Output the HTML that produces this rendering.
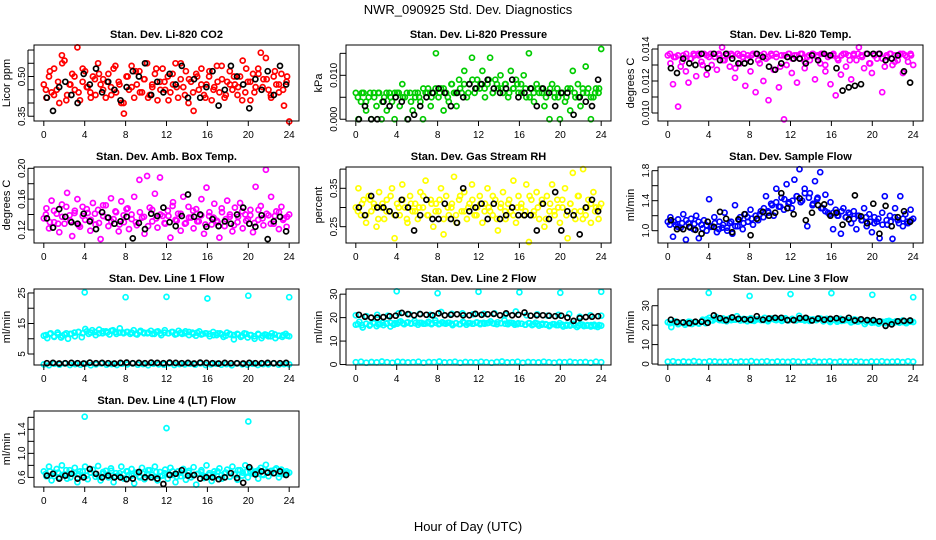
<!DOCTYPE html>
<html><head><meta charset="utf-8"><style>
html,body{margin:0;padding:0;background:#fff}
svg{display:block;font-family:"Liberation Sans",sans-serif}
</style></head><body>
<svg id="chart" width="936" height="540" viewBox="0 0 936 540">
<rect x="0" y="0" width="936" height="540" fill="#fff"/>
<text x="468" y="14" text-anchor="middle" font-size="13">NWR_090925  Std. Dev. Diagnostics</text>
<text x="468" y="531" text-anchor="middle" font-size="13">Hour of Day (UTC)</text>
</svg>
<script>
const xTicks=[0,4,8,12,16,20,24];
// CO2
const co2Vals=[0.47,0.42,0.50,0.44,0.53,0.45,0.40,0.58,0.56,0.43,0.47,0.51,0.45,0.61,0.41,0.48,0.52,0.46,0.44,0.50,0.43,0.55,0.47,0.49,0.42,0.51,0.46,0.53,0.44,0.48,0.40,0.36,0.50,0.45,0.54,0.42,0.47,0.52,0.44,0.49,0.55,0.43,0.46,0.51,0.41,0.48,0.53,0.45,0.50,0.44,0.47,0.55,0.42,0.49,0.46,0.52,0.40,0.48,0.37,0.51,0.45,0.53,0.43,0.47,0.50,0.41,0.46,0.54,0.44,0.49,0.42,0.48,0.52,0.45,0.47,0.43,0.50,0.56,0.44,0.48,0.41,0.51,0.46,0.53,0.59,0.49,0.57,0.45,0.42,0.50,0.47,0.44,0.51,0.39,0.48,0.33];
const co2B=[0.45,0.52,0.43,0.48,0.55,0.41,0.47,0.50,0.44,0.53,0.46,0.42,0.49,0.51,0.45,0.48,0.43,0.54,0.47,0.40,0.50,0.46,0.52,0.44,0.49,0.42,0.47,0.53,0.45,0.48,0.41,0.51,0.46,0.55,0.43,0.49,0.44,0.50,0.47,0.42,0.52,0.45,0.48,0.54,0.43,0.47,0.50,0.46,0.41,0.53,0.48,0.44,0.51,0.46,0.49,0.43,0.52,0.47,0.45,0.50];
const co2Black=[0.42,0.37,0.46,0.48,0.43,0.40,0.51,0.47,0.53,0.44,0.48,0.45,0.41,0.46,0.52,0.50,0.55,0.43,0.48,0.44,0.51,0.47,0.54,0.42,0.49,0.42,0.46,0.52,0.39,0.45,0.54,0.50,0.47,0.38,0.49,0.45,0.52,0.43,0.54,0.47];
// Pressure
const presVals=[.006,.000,.004,.006,.002,.005,.000,.006,.003,.006,.000,.005,.002,.006,.004,.000,.006,.003,.008,.005,.000,.006,.002,.005,.006,.004,.000,.006,.007,.003,.006,.015,.005,.007,.002,.006,.004,.008,.006,.003,.009,.006,.011,.005,.008,.014,.006,.009,.007,.011,.005,.008,.014,.006,.009,.007,.010,.006,.008,.005,.011,.007,.009,.006,.008,.010,.005,.015,.007,.004,.008,.006,.007,.003,.006,.000,.008,.005,.007,.000,.006,.004,.007,.002,.011,.005,.008,.003,.006,.012,.007,.000,.005,.007,.006,.016];
const presB=[.005,.006,.004,.006,.005,.006,.004,.006,.005,.006,.006,.005,.006,.004,.006,.005,.007,.006,.005,.007,.006,.007,.005,.008,.006,.007,.008,.006,.009,.007,.008,.007,.009,.006,.008,.007,.008,.006,.007,.008,.006,.007,.005,.006,.007,.006,.005,.007,.006,.005,.006,.005,.007,.006,.005,.007,.006,.005,.006,.007];
const presBlack=[.000,.003,.000,.000,.004,.003,.005,.004,.000,.001,.003,.005,.006,.007,.006,.003,.006,.005,.008,.007,.008,.009,.007,.006,.007,.009,.005,.006,.007,.003,.007,.006,.003,.006,.006,.001,.005,.004,.003,.009];
// Li-820 temp
const tempVals=[0.0136,0.0131,0.0118,0.0135,0.0104,0.0129,0.0136,0.0126,0.0119,0.0134,0.0137,0.0123,0.0136,0.0132,0.0137,0.0124,0.0135,0.0130,0.0137,0.0127,0.0136,0.0141,0.0133,0.0137,0.0129,0.0136,0.0122,0.0137,0.0131,0.0135,0.0117,0.0136,0.0126,0.0137,0.0113,0.0133,0.0136,0.0120,0.0134,0.0108,0.0137,0.0127,0.0135,0.0116,0.0136,0.0096,0.0130,0.0137,0.0125,0.0136,0.0119,0.0134,0.0137,0.0128,0.0135,0.0133,0.0137,0.0121,0.0136,0.0131,0.0137,0.0126,0.0135,0.0118,0.0136,0.0111,0.0133,0.0124,0.0137,0.0129,0.0136,0.0121,0.0137,0.0133,0.0141,0.0136,0.0128,0.0137,0.0131,0.0125,0.0136,0.0134,0.0137,0.0113,0.0129,0.0135,0.0137,0.0130,0.0136,0.0133,0.0137,0.0125,0.0136,0.0132,0.0137,0.0130];
const tempB=[0.0137,0.0135,0.0136,0.0132,0.0137,0.0134,0.0136,0.0137,0.0130,0.0136,0.0137,0.0135,0.0137,0.0133,0.0136,0.0137,0.0128,0.0136,0.0137,0.0134,0.0136,0.0137,0.0131,0.0137,0.0135,0.0136,0.0137,0.0129,0.0136,0.0137,0.0134,0.0136,0.0137,0.0132,0.0136,0.0137,0.0135,0.0137,0.0130,0.0136,0.0137,0.0134,0.0136,0.0137,0.0133,0.0136,0.0137,0.0135,0.0137,0.0131,0.0136,0.0137,0.0134,0.0136,0.0137,0.0132,0.0136,0.0137,0.0135,0.0136];
const tempBlack=[0.0128,0.0125,0.0134,0.0131,0.0130,0.0137,0.0128,0.0137,0.0133,0.0137,0.0134,0.0131,0.0131,0.0132,0.0137,0.0135,0.0129,0.0127,0.0131,0.0135,0.0134,0.0134,0.0131,0.0136,0.0133,0.0137,0.0136,0.0128,0.0114,0.0116,0.0117,0.0118,0.0137,0.0137,0.0137,0.0133,0.0134,0.0136,0.0126,0.0119];
// Amb box temp
const ambVals=[0.135,0.148,0.122,0.158,0.130,0.141,0.117,0.153,0.128,0.168,0.139,0.112,0.145,0.160,0.124,0.150,0.133,0.142,0.119,0.155,0.127,0.146,0.108,0.138,0.152,0.125,0.161,0.134,0.143,0.118,0.157,0.130,0.147,0.121,0.140,0.163,0.126,0.185,0.136,0.115,0.190,0.149,0.131,0.167,0.123,0.188,0.138,0.128,0.145,0.110,0.156,0.133,0.141,0.119,0.163,0.129,0.150,0.136,0.122,0.147,0.131,0.160,0.115,0.175,0.138,0.127,0.154,0.132,0.110,0.143,0.125,0.158,0.137,0.118,0.149,0.130,0.155,0.122,0.140,0.134,0.146,0.117,0.176,0.133,0.151,0.126,0.198,0.139,0.163,0.128,0.144,0.121,0.150,0.135,0.124,0.140];
const ambB=[0.140,0.130,0.145,0.128,0.137,0.150,0.132,0.142,0.126,0.138,0.147,0.133,0.141,0.129,0.152,0.136,0.131,0.144,0.127,0.139,0.148,0.134,0.130,0.143,0.137,0.125,0.146,0.135,0.140,0.129,0.138,0.151,0.132,0.141,0.128,0.136,0.145,0.131,0.139,0.127,0.143,0.136,0.130,0.148,0.134,0.140,0.126,0.137,0.144,0.132,0.139,0.129,0.146,0.135,0.141,0.128,0.138,0.143,0.133,0.137];
const ambBlack=[0.135,0.123,0.147,0.137,0.130,0.128,0.141,0.131,0.121,0.143,0.136,0.128,0.131,0.137,0.109,0.129,0.121,0.141,0.138,0.149,0.130,0.125,0.138,0.166,0.137,0.140,0.124,0.134,0.125,0.131,0.128,0.140,0.149,0.128,0.124,0.139,0.108,0.131,0.137,0.118];
// RH
const rhVals=[0.30,0.35,0.28,0.32,0.26,0.33,0.29,0.31,0.25,0.34,0.30,0.27,0.32,0.29,0.35,0.22,0.31,0.28,0.36,0.30,0.26,0.33,0.29,0.31,0.27,0.34,0.30,0.37,0.28,0.32,0.25,0.31,0.29,0.35,0.23,0.33,0.28,0.30,0.38,0.26,0.32,0.29,0.34,0.27,0.31,0.36,0.28,0.30,0.33,0.26,0.31,0.35,0.29,0.28,0.32,0.24,0.30,0.34,0.27,0.31,0.29,0.37,0.26,0.33,0.30,0.28,0.36,0.21,0.32,0.29,0.34,0.27,0.31,0.25,0.33,0.29,0.36,0.28,0.32,0.26,0.30,0.35,0.22,0.31,0.39,0.27,0.33,0.29,0.40,0.28,0.32,0.26,0.34,0.30,0.27,0.31];
const rhB=[0.29,0.31,0.28,0.32,0.30,0.27,0.31,0.29,0.33,0.28,0.30,0.32,0.27,0.31,0.29,0.30,0.33,0.28,0.31,0.29,0.32,0.27,0.30,0.31,0.28,0.33,0.29,0.30,0.32,0.28,0.31,0.29,0.30,0.33,0.27,0.31,0.29,0.32,0.28,0.30,0.31,0.29,0.33,0.28,0.30,0.32,0.27,0.31,0.29,0.30,0.32,0.28,0.31,0.29,0.33,0.27,0.30,0.31,0.29,0.30];
const rhBlack=[0.30,0.28,0.33,0.30,0.30,0.29,0.28,0.32,0.30,0.24,0.28,0.32,0.27,0.27,0.31,0.27,0.26,0.35,0.29,0.30,0.31,0.27,0.31,0.27,0.28,0.30,0.28,0.28,0.28,0.24,0.31,0.27,0.34,0.24,0.29,0.28,0.23,0.30,0.32,0.29];
// Sample flow
const sfVals=[1.12,1.18,0.92,1.08,1.15,1.04,1.22,0.88,1.10,1.16,1.02,1.20,0.90,1.08,1.14,1.00,1.42,1.06,1.18,0.98,1.12,1.04,1.24,1.00,1.10,0.96,1.34,1.06,1.18,1.02,1.22,1.12,1.28,1.08,1.20,1.14,1.26,1.18,1.46,1.24,1.36,1.20,1.56,1.32,1.44,1.28,1.62,1.38,1.30,1.68,1.46,1.82,1.40,1.56,1.06,1.50,1.34,1.66,1.44,1.78,1.30,1.48,1.24,1.38,1.02,1.28,1.20,0.96,1.30,1.18,1.24,1.10,1.26,1.02,1.20,1.14,1.30,1.06,1.22,0.98,1.18,1.12,0.90,1.24,1.46,1.08,1.20,0.89,1.30,1.14,1.46,1.06,1.22,1.10,1.28,1.16];
const sfB=[1.08,1.12,1.05,1.10,1.14,1.04,1.09,1.12,1.03,1.07,1.05,1.10,1.02,1.08,1.04,1.12,1.06,1.14,1.10,1.18,1.16,1.20,1.22,1.30,1.26,1.34,1.38,1.32,1.42,1.36,1.40,1.46,1.38,1.50,1.44,1.36,1.42,1.30,1.26,1.22,1.24,1.20,1.26,1.18,1.22,1.16,1.20,1.14,1.18,1.12,1.10,1.16,1.08,1.14,1.12,1.18,1.10,1.16,1.12,1.14];
const sfBlack=[1.14,1.02,1.02,1.05,1.01,0.96,1.12,1.05,1.25,1.16,0.98,1.15,1.22,0.94,1.16,1.25,1.20,1.24,1.50,1.30,1.22,1.43,1.14,1.24,1.34,1.35,1.20,1.24,1.08,1.15,1.47,1.19,1.10,1.36,0.96,1.33,1.06,1.18,1.26,1.12];
// Line 1
const l1Band=[11.0,10.2,11.8,10.6,12.0,10.4,11.4,10.0,11.6,10.8,12.2,10.5,13.2,11.6,12.8,11.2,13.0,11.8,12.4,11.4,12.8,11.6,13.4,12.0,12.2,11.6,12.8,11.4,12.6,12.0,11.8,12.6,11.6,12.4,11.2,12.8,11.8,12.2,11.4,12.6,11.6,12.4,11.2,12.0,11.0,12.4,11.6,11.8,10.8,12.2,11.2,11.8,10.6,12.0,11.4,9.8,11.6,10.6,11.8,10.4,11.2,10.0,11.6,10.2,11.4,10.8,11.8,10.2,11.0,10.6,11.6,10.8];
const l1B=[11.2,11.6,10.8,11.4,11.0,11.8,11.6,12.0,12.2,11.8,12.4,12.0,12.2,11.8,12.4,12.0,12.6,12.2,12.0,11.8,12.2,12.0,11.6,12.2,11.8,12.0,11.6,12.2,11.8,12.0,11.8,12.2,11.6,12.0,11.8,12.2,11.6,12.0,11.4,11.8,11.6,11.2,11.8,11.4,11.0,11.6,11.2,11.4,11.0,11.6,11.2,10.8,11.4,11.0,11.2,10.8,11.4,11.0,11.2,11.0];
const l1Low=[1.6,1.3,1.8,1.5,1.9,1.4,1.7,1.5,1.8,1.3,1.6,1.9,1.5,1.7,1.4,1.8,1.6,1.9,1.5,1.7,1.3,1.8,1.6,1.5,1.9,1.4,1.7,1.6,1.8,1.5,1.9,1.4,1.6,1.8,1.5,1.7,1.3,1.9,1.6,1.5,1.8,1.4,1.7,1.6,1.9,1.5,1.7,1.6];
const l1Black=[2.0,2.1,1.9,2.0,2.1,2.0,1.9,2.2,2.0,2.1,2.0,1.9,2.1,2.2,2.0,2.1,2.0,2.2,2.1,2.0,2.2,2.1,2.0,2.1,1.9,2.2,2.1,2.0,1.9,2.1,2.0,2.0,1.9,2.1,2.0,2.0,2.1,2.0,2.0,2.1];
const l1OutHours=[4,8,12,16,20,24];
const l1OutVals=[25.2,23.6,23.7,23.2,24.1,23.6];
// Line 2
const l2Band=[17.0,18.2,15.8,17.4,16.6,17.8,16.4,17.2,16.8,17.6,16.2,17.0,17.4,18.4,17.2,18.0,17.6,18.6,17.0,17.8,17.4,18.2,17.6,18.8,17.2,18.0,17.4,17.8,16.8,17.6,17.2,18.2,17.0,17.6,17.4,18.0,17.2,17.8,17.6,18.4,17.4,18.0,17.6,18.8,17.2,17.8,17.0,17.6,17.4,17.0,17.6,16.8,17.8,16.6,17.4,17.0,16.4,17.2,16.8,17.6,16.2,17.0,16.6,17.4,16.0,17.2,16.4,16.8,16.2,17.0,16.0,16.6];
const l2B=[17.2,16.8,17.4,17.0,17.6,17.2,17.8,17.4,17.8,17.6,18.0,17.6,17.8,17.4,17.6,17.8,17.4,17.6,17.2,17.8,17.4,17.6,17.8,17.4,17.6,17.2,17.8,17.6,17.4,17.8,17.6,17.4,17.8,17.6,17.2,17.6,17.4,17.8,17.6,17.2,17.4,17.0,17.6,17.2,17.4,17.0,17.2,16.8,17.2,16.8,17.0,16.6,17.0,16.8,16.6,17.0,16.6,16.8,16.4,16.8];
const l2Upper=[21.0,20.6,21.2,20.8,21.8,21.4,21.6,21.2,22.4,21.6,21.8,21.4,21.6,21.8,21.2,22.6,21.0,21.4,20.8,21.2,21.6,20.4,21.0,20.8];
const l2Low=[1.0,1.2,0.8,1.1,0.9,1.3,1.0,0.8,1.2,1.1,0.9,1.0,1.2,0.8,1.1,1.0,1.3,0.9,1.0,1.2,0.8,1.1,1.0,0.9,1.2,1.0,0.8,1.1,1.3,0.9,1.0,1.2,0.8,1.1,1.0,0.9,1.2,1.0,0.8,1.1,1.0,1.2,0.9,1.0,1.1,0.8,1.2,1.0];
const l2Black=[21.2,20.4,20.0,20.0,20.2,20.6,20.8,22.0,21.5,21.0,21.5,21.2,21.0,21.8,21.0,21.2,21.4,21.0,21.0,21.6,21.2,21.4,21.6,21.0,21.8,21.0,21.2,22.2,20.8,21.0,21.0,20.8,20.6,20.8,20.0,18.6,19.8,20.2,20.4,20.6];
const l2OutHours=[4,8,12,16,20,24];
const l2OutVals=[31.2,30.4,31.0,30.8,30.6,31.0];
// Line 3
const l3Band=[21.5,19.0,22.0,20.5,21.2,20.2,21.8,20.6,21.4,20.8,22.2,21.0,23.8,22.4,24.2,22.6,23.4,22.0,23.6,22.8,24.6,22.4,23.2,22.0,23.6,22.2,23.0,22.6,23.8,22.0,23.4,22.8,23.0,22.2,23.6,22.6,23.2,22.4,24.8,22.8,23.4,22.2,23.0,22.6,23.4,22.0,23.2,21.6,22.8,21.8,23.2,22.4,22.6,21.4,23.0,21.8,22.2,20.6,22.4,21.2,22.0,20.8,21.6,21.0,22.2,21.4,22.0,21.2,22.4,21.0,21.8,21.6];
const l3B=[21.0,21.4,20.8,21.2,21.0,21.6,21.2,21.0,22.8,23.0,22.6,23.2,22.8,22.4,23.0,22.6,22.8,23.2,22.6,23.0,22.4,22.8,23.0,22.6,22.8,23.2,22.6,23.0,22.8,22.4,23.0,22.6,22.8,22.4,23.0,22.6,22.8,23.2,22.6,22.4,22.8,22.6,22.2,22.8,22.4,22.0,22.6,22.2,21.6,22.0,21.4,21.8,21.6,22.0,21.8,21.4,22.0,21.6,21.8,22.0];
const l3Low=[1.2,1.4,1.0,1.3,1.1,1.5,1.2,1.0,1.4,1.3,1.1,1.2,1.4,1.0,1.3,1.2,1.5,1.1,1.2,1.4,1.0,1.3,1.2,1.1,1.4,1.2,1.0,1.3,1.5,1.1,1.2,1.4,1.0,1.3,1.2,1.1,1.4,1.2,1.0,1.3,1.2,1.4,1.1,1.2,1.3,1.0,1.4,1.2];
const l3Black=[22.8,21.6,21.4,21.0,21.8,21.8,21.2,25.0,23.6,22.6,24.0,23.2,23.0,22.8,24.6,22.8,23.4,23.8,23.8,22.6,22.6,23.6,23.8,22.4,23.4,22.8,23.2,23.6,22.8,23.8,22.4,23.0,22.6,22.6,22.0,19.6,20.4,22.0,22.2,22.4];
const l3OutHours=[4,8,12,16,20,24];
const l3OutVals=[36.6,35.0,36.0,36.5,35.6,34.4];
// Line 4
const l4Vals=[0.70,0.62,0.78,0.55,0.68,0.74,0.60,0.80,0.65,0.58,0.72,0.66,0.76,0.52,0.70,0.63,0.78,0.57,0.68,0.73,0.61,0.79,0.55,0.66,0.71,0.60,0.75,0.52,0.67,0.63,0.78,0.58,0.70,0.64,0.74,0.50,0.68,0.62,0.76,0.57,0.66,0.72,0.60,0.78,0.55,0.69,0.63,0.73,0.58,0.76,0.64,0.52,0.70,0.62,0.74,0.56,0.68,0.60,0.77,0.48,0.66,0.72,0.59,0.80,0.64,0.54,0.70,0.62,0.75,0.58,0.67,0.73,0.61,0.78,0.65,0.56,0.72,0.68,0.80,0.60,0.74,0.66,0.70,0.58,0.76,0.64,0.81,0.62,0.71,0.67,0.75,0.60,0.73,0.65,0.70,0.68];
const l4B=[0.66,0.70,0.62,0.68,0.64,0.72,0.60,0.67,0.65,0.70,0.63,0.68,0.66,0.61,0.69,0.64,0.71,0.62,0.67,0.65,0.70,0.63,0.68,0.60,0.66,0.72,0.64,0.69,0.62,0.67,0.65,0.70,0.61,0.68,0.64,0.71,0.63,0.66,0.69,0.62,0.67,0.65,0.70,0.64,0.68,0.61,0.66,0.72,0.63,0.69,0.70,0.67,0.72,0.65,0.70,0.68,0.73,0.66,0.69,0.67];
const l4Black=[0.63,0.66,0.58,0.63,0.66,0.58,0.60,0.74,0.66,0.60,0.63,0.60,0.60,0.57,0.58,0.69,0.60,0.60,0.58,0.49,0.64,0.66,0.72,0.63,0.64,0.58,0.60,0.60,0.57,0.60,0.67,0.59,0.51,0.77,0.65,0.70,0.68,0.67,0.70,0.64];
const l4OutHours=[4,12,20];
const l4OutVals=[1.61,1.42,1.53];

const NS="http://www.w3.org/2000/svg";
const svg=document.getElementById('chart');
function mk(tag,attrs,parent){const e=document.createElementNS(NS,tag);for(const k in attrs)e.setAttribute(k,attrs[k]);(parent||svg).appendChild(e);return e;}
function evenHours(n){const h=[];for(let i=0;i<n;i++)h.push(i*24/(n-1));return h;}
function midHours(n){const h=[];for(let i=0;i<n;i++)h.push((i+0.5)*24/n);return h;}

const colLeft=[34,346,658],rowTop=[45,167,289,411],W=265,H=76;
const panels=[
 {t:'Stan. Dev. Li-820 CO2',yl:'Licor ppm',c:0,r:0,ylim:[0.332,0.619],ticks:[0.35,0.40,0.45,0.50,0.55,0.60],labels:[0.35,0.50],fmt:2,col:'#ff0000',series:[[evenHours(co2Vals.length),co2Vals],[midHours(co2B.length),co2B]],black:co2Black},
 {t:'Stan. Dev. Li-820 Pressure',yl:'kPa',c:1,r:0,ylim:[-0.0004,0.0169],ticks:[0,0.005,0.010,0.015],labels:[0,0.010],fmt:3,col:'#00cc00',series:[[evenHours(presVals.length),presVals],[midHours(presB.length),presB]],black:presBlack},
 {t:'Stan. Dev. Li-820 Temp.',yl:'degrees C',c:2,r:0,ylim:[0.0095,0.01425],ticks:[0.010,0.011,0.012,0.013,0.014],labels:[0.010,0.012,0.014],fmt:3,col:'#ff00ff',series:[[evenHours(tempVals.length),tempVals],[midHours(tempB.length),tempB]],black:tempBlack},
 {t:'Stan. Dev. Amb. Box Temp.',yl:'degrees C',c:0,r:1,ylim:[0.103,0.2017],ticks:[0.12,0.14,0.16,0.18,0.20],labels:[0.12,0.16,0.20],fmt:2,col:'#ff00ff',series:[[evenHours(ambVals.length),ambVals],[midHours(ambB.length),ambB]],black:ambBlack},
 {t:'Stan. Dev. Gas Stream RH',yl:'percent',c:1,r:1,ylim:[0.2075,0.4055],ticks:[0.25,0.30,0.35,0.40],labels:[0.25,0.35],fmt:2,col:'#ffff00',series:[[evenHours(rhVals.length),rhVals],[midHours(rhB.length),rhB]],black:rhBlack},
 {t:'Stan. Dev. Sample Flow',yl:'ml/min',c:2,r:1,ylim:[0.836,1.849],ticks:[1.0,1.2,1.4,1.6,1.8],labels:[1.0,1.4,1.8],fmt:1,col:'#0000ff',series:[[evenHours(sfVals.length),sfVals],[midHours(sfB.length),sfB]],black:sfBlack},
 {t:'Stan. Dev. Line 1 Flow',yl:'ml/min',c:0,r:2,ylim:[1.4,26.3],ticks:[5,10,15,20,25],labels:[5,15,25],fmt:0,col:'#00ffff',series:[[evenHours(l1Band.length),l1Band],[midHours(l1B.length),l1B],[evenHours(l1Low.length),l1Low],[l1OutHours,l1OutVals]],black:l1Black},
 {t:'Stan. Dev. Line 2 Flow',yl:'ml/min',c:1,r:2,ylim:[-0.2,32.2],ticks:[0,10,20,30],labels:[0,10,20,30],fmt:0,col:'#00ffff',series:[[evenHours(l2Band.length),l2Band],[midHours(l2B.length),l2B],[evenHours(l2Upper.length),l2Upper],[evenHours(l2Low.length),l2Low],[l2OutHours,l2OutVals]],black:l2Black},
 {t:'Stan. Dev. Line 3 Flow',yl:'ml/min',c:2,r:2,ylim:[-0.5,38.6],ticks:[0,10,20,30],labels:[0,10,20,30],fmt:0,col:'#00ffff',series:[[evenHours(l3Band.length),l3Band],[midHours(l3B.length),l3B],[evenHours(l3Low.length),l3Low],[l3OutHours,l3OutVals]],black:l3Black},
 {t:'Stan. Dev. Line 4 (LT) Flow',yl:'ml/min',c:0,r:3,ylim:[0.44,1.705],ticks:[0.6,0.8,1.0,1.2,1.4,1.6],labels:[0.6,1.0,1.4],fmt:1,col:'#00ffff',series:[[evenHours(l4Vals.length),l4Vals],[midHours(l4B.length),l4B],[l4OutHours,l4OutVals]],black:l4Black}
];

panels.forEach((p,pi)=>{
  const L=colLeft[p.c],T=rowTop[p.r];
  const g=mk('g',{});
  
  
  const xS=h=>L+W*(h+0.96)/25.92;
  const yS=v=>T+H-(v-p.ylim[0])/(p.ylim[1]-p.ylim[0])*H;
  const tt=mk('text',{x:L+W/2,y:T-7,'text-anchor':'middle','font-size':'11','font-weight':'bold'},g);
  tt.textContent=p.t;
  
  
  const yt=mk('text',{x:0,y:0,'text-anchor':'middle','font-size':'11',transform:`translate(${L-24},${T+H/2}) rotate(-90)`},g);
  yt.textContent=p.yl;
  
  
  const pts=mk('g',{fill:'none','stroke-width':'1.7'},g);
  
  
  p.series.forEach(s=>{
    s[0].forEach((h,i)=>{
      const c=mk('circle',{cx:xS(h).toFixed(1),cy:yS(s[1][i]).toFixed(1),r:'2.5',stroke:p.col},pts);
      
      
    });
  });
  const bh=midHours(p.black.length);
  bh.forEach((h,i)=>{
    const c=mk('circle',{cx:xS(h).toFixed(1),cy:yS(p.black[i]).toFixed(1),r:'2.5',stroke:'#000'},pts);
    
    
  });
  const box=mk('rect',{x:L,y:T,width:W,height:H,fill:'none',stroke:'#000','stroke-width':'1'},g);
  
  
  xTicks.forEach(h=>{
    mk('line',{x1:xS(h),x2:xS(h),y1:T+H,y2:T+H+5,stroke:'#000'},g);
    const lb=mk('text',{x:xS(h),y:T+H+17,'text-anchor':'middle','font-size':'10'},g);
    lb.textContent=h;
    
    
  });
  mk('line',{x1:L-6,x2:L-6,y1:yS(p.ticks[0]),y2:yS(p.ticks[p.ticks.length-1]),stroke:'#000'},g);
  p.ticks.forEach(v=>{
    mk('line',{x1:L-6,x2:L,y1:yS(v),y2:yS(v),stroke:'#000'},g);
  });
  p.labels.forEach(v=>{
    const lb=mk('text',{x:0,y:0,'text-anchor':'middle','font-size':'10',transform:`translate(${L-9},${yS(v)}) rotate(-90)`},g);
    lb.textContent=v.toFixed(p.fmt);
    
    
  });
});
</script>
</body></html>
